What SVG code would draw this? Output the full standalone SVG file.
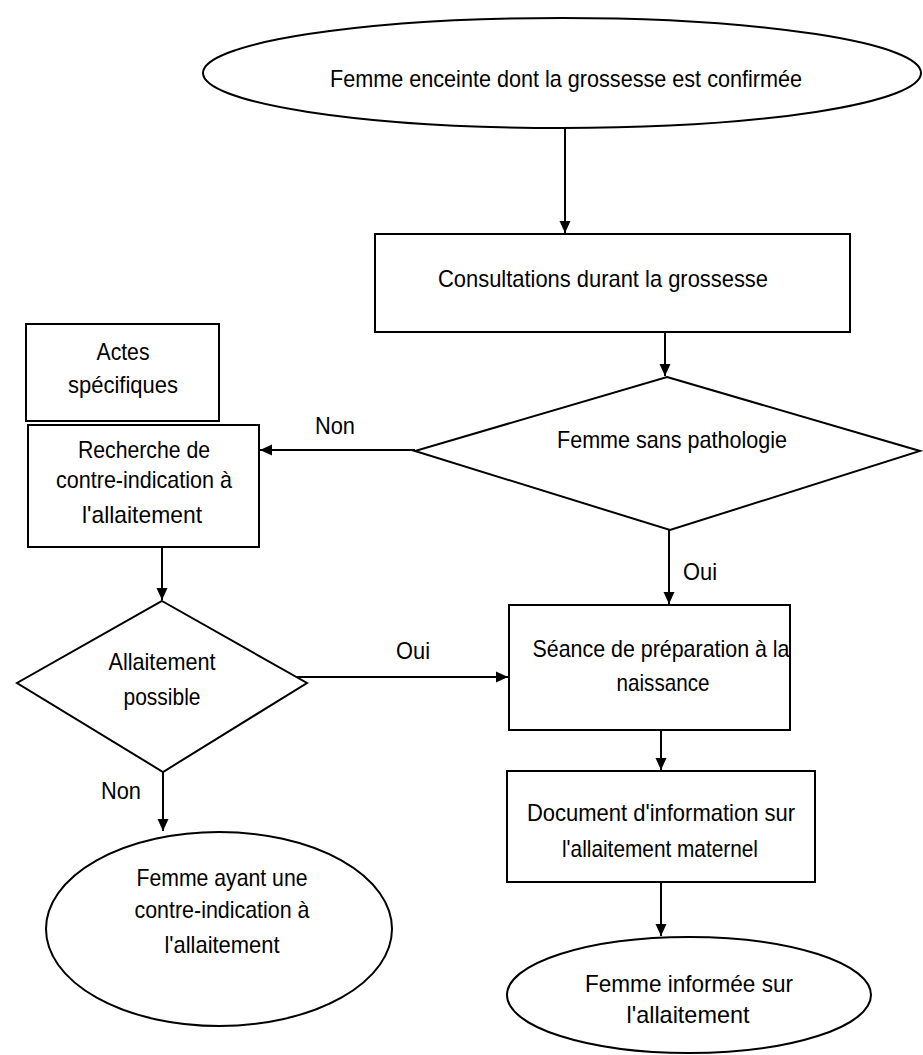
<svg xmlns="http://www.w3.org/2000/svg" width="923" height="1055" viewBox="0 0 923 1055">
<defs>
<marker id="arr" markerWidth="13" markerHeight="13" refX="12" refY="6.5" orient="auto" markerUnits="userSpaceOnUse">
<path d="M0,1 L12,6.5 L0,12 Z" fill="#000"/>
</marker>
</defs>
<style>
.s{fill:#fff;stroke:#000;stroke-width:2}
.c{fill:none;stroke:#000;stroke-width:2;marker-end:url(#arr)}
text{font-family:"Liberation Sans",Arial,sans-serif;font-size:24px;fill:#000;text-anchor:middle}
</style>
<rect width="923" height="1055" fill="#fff"/>
<g id="n1"><ellipse class="s" cx="562" cy="73" rx="359" ry="55"/><text x="566" y="87" textLength="472" lengthAdjust="spacingAndGlyphs">Femme enceinte dont la grossesse est confirmée</text></g>
<g id="n2"><rect class="s" x="375" y="234" width="475" height="98"/><text x="603" y="287" textLength="330" lengthAdjust="spacingAndGlyphs">Consultations durant la grossesse</text></g>
<g id="n3"><polygon class="s" points="667,377 920,451 670,530 415,451"/><text x="672" y="448" textLength="230" lengthAdjust="spacingAndGlyphs">Femme sans pathologie</text></g>
<g id="n4"><rect class="s" x="26" y="324" width="193" height="97"/><text x="123" y="360" textLength="53" lengthAdjust="spacingAndGlyphs">Actes</text><text x="123" y="393" textLength="110" lengthAdjust="spacingAndGlyphs">spécifiques</text></g>
<g id="n5"><rect class="s" x="28" y="425" width="231" height="122"/><text x="144" y="458" textLength="132" lengthAdjust="spacingAndGlyphs">Recherche de</text><text x="144" y="488" textLength="176" lengthAdjust="spacingAndGlyphs">contre-indication à</text><text x="142" y="523" textLength="120" lengthAdjust="spacingAndGlyphs">l'allaitement</text></g>
<g id="n6"><polygon class="s" points="162,601 307,683 163,772 17,683"/><text x="162" y="670" textLength="107" lengthAdjust="spacingAndGlyphs">Allaitement</text><text x="162" y="705" textLength="77" lengthAdjust="spacingAndGlyphs">possible</text></g>
<g id="n7"><rect class="s" x="509" y="605" width="281" height="125"/><text x="661" y="657" textLength="257" lengthAdjust="spacingAndGlyphs">Séance de préparation à la</text><text x="663" y="691" textLength="93" lengthAdjust="spacingAndGlyphs">naissance</text></g>
<g id="n8"><rect class="s" x="507" y="771" width="308" height="111"/><text x="661" y="821" textLength="268" lengthAdjust="spacingAndGlyphs">Document d'information sur</text><text x="660" y="857" textLength="196" lengthAdjust="spacingAndGlyphs">l'allaitement maternel</text></g>
<g id="n9"><ellipse class="s" cx="219" cy="929" rx="173" ry="97"/><text x="222" y="886" textLength="171" lengthAdjust="spacingAndGlyphs">Femme ayant une</text><text x="222" y="918" textLength="175" lengthAdjust="spacingAndGlyphs">contre-indication à</text><text x="222" y="953" textLength="115" lengthAdjust="spacingAndGlyphs">l'allaitement</text></g>
<g id="n10"><ellipse class="s" cx="689" cy="995" rx="182" ry="58"/><text x="689" y="992" textLength="208" lengthAdjust="spacingAndGlyphs">Femme informée sur</text><text x="688" y="1023" textLength="123" lengthAdjust="spacingAndGlyphs">l'allaitement</text></g>
<g id="connectors">
<line class="c" x1="565" y1="128" x2="565" y2="233"/>
<line class="c" x1="665" y1="332" x2="665" y2="376"/>
<line class="c" x1="415" y1="450" x2="260" y2="450"/>
<line class="c" x1="669" y1="530" x2="669" y2="604"/>
<line class="c" x1="162" y1="547" x2="162" y2="600"/>
<line class="c" x1="296" y1="677" x2="508" y2="677"/>
<line class="c" x1="163" y1="772" x2="163" y2="831"/>
<line class="c" x1="661" y1="730" x2="661" y2="770"/>
<line class="c" x1="661" y1="882" x2="661" y2="936"/>
<text x="335" y="434" textLength="40" lengthAdjust="spacingAndGlyphs">Non</text>
<text x="700" y="580" textLength="34" lengthAdjust="spacingAndGlyphs">Oui</text>
<text x="413" y="659" textLength="34" lengthAdjust="spacingAndGlyphs">Oui</text>
<text x="121" y="799" textLength="40" lengthAdjust="spacingAndGlyphs">Non</text>
</g>
</svg>
